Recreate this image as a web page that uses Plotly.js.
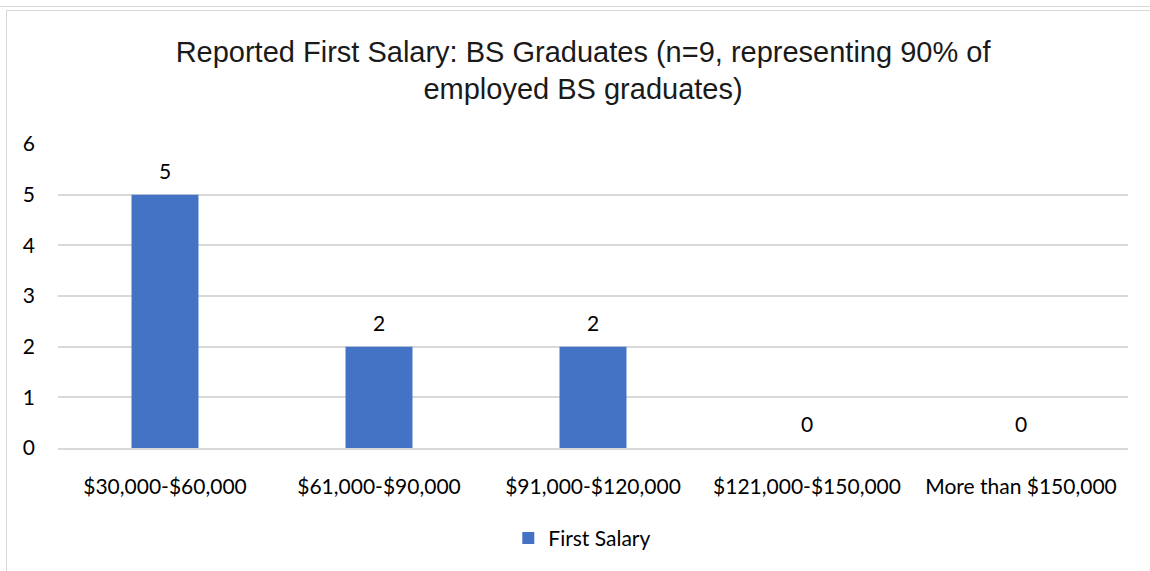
<!DOCTYPE html>
<html>
<head>
<meta charset="utf-8">
<script src="https://cdn.plot.ly/plotly-3.0.1.min.js"></script>
<style>
html,body{margin:0;padding:0;background:#fff;width:1150px;height:571px;overflow:hidden;position:relative;}
#topline{position:absolute;left:0;top:6px;width:1150px;height:1px;background:#d9d9d9;}
#frame{position:absolute;left:6px;top:10px;width:1150px;height:600px;border-left:1px solid #d9d9d9;border-top:1px solid #d9d9d9;}
#chart{position:absolute;left:0;top:0;width:1150px;height:571px;}
</style>
</head>
<body>
<div id="topline"></div>
<div id="frame"></div>
<div id="chart"></div>
<script>
var categories = ["$30,000-$60,000", "$61,000-$90,000", "$91,000-$120,000", "$121,000-$150,000", "More than $150,000"];
var counts = [5, 2, 2, 0, 0];
var seriesName = "First Salary";
var yTicks = [0, 1, 2, 3, 4, 5, 6];

var labelFont = {family: "Lato, 'Open Sans', sans-serif", size: 21, color: "#000"};

var trace = {
  type: "bar",
  x: categories,
  y: counts,
  name: seriesName,
  marker: {color: "#4472C4"},
  showlegend: true
};

var annotations = categories.map(function(c, i){
  return {x: c, y: counts[i], xref: "x", yref: "y", text: String(counts[i]),
    showarrow: false, yanchor: "bottom", yshift: 10, font: labelFont};
});

var layout = {
  width: 1150, height: 571,
  paper_bgcolor: "rgba(0,0,0,0)", plot_bgcolor: "rgba(0,0,0,0)",
  margin: {l: 58, r: 22, t: 144, b: 115},
  bargap: 0.687,
  title: {
    text: "Reported First Salary: BS Graduates (n=9, representing 90% of<br>employed BS graduates)",
    font: {family: "'Liberation Sans', Arial, sans-serif", size: 29, color: "#1a1a1a"},
    x: 0.507, xanchor: "center", y: 0.892, yanchor: "top"
  },
  xaxis: {
    type: "category",
    showline: true, linecolor: "#d9d9d9", linewidth: 2,
    ticks: "", tickfont: labelFont, ticklabelstandoff: 19,
    showgrid: false, zeroline: false
  },
  yaxis: {
    range: [0, 6], tickvals: yTicks, ticktext: yTicks.map(String),
    showgrid: true, gridcolor: "#d9d9d9", gridwidth: 2,
    zeroline: false, showline: false, ticks: "",
    tickfont: labelFont, ticklabelstandoff: 22
  },
  legend: {
    orientation: "h", x: 0.49, xanchor: "center", y: -0.23, yanchor: "top",
    font: labelFont, itemwidth: 30
  },
  annotations: annotations
};

Plotly.newPlot("chart", [trace], layout, {displayModeBar: false, staticPlot: true});
</script>
</body>
</html>
